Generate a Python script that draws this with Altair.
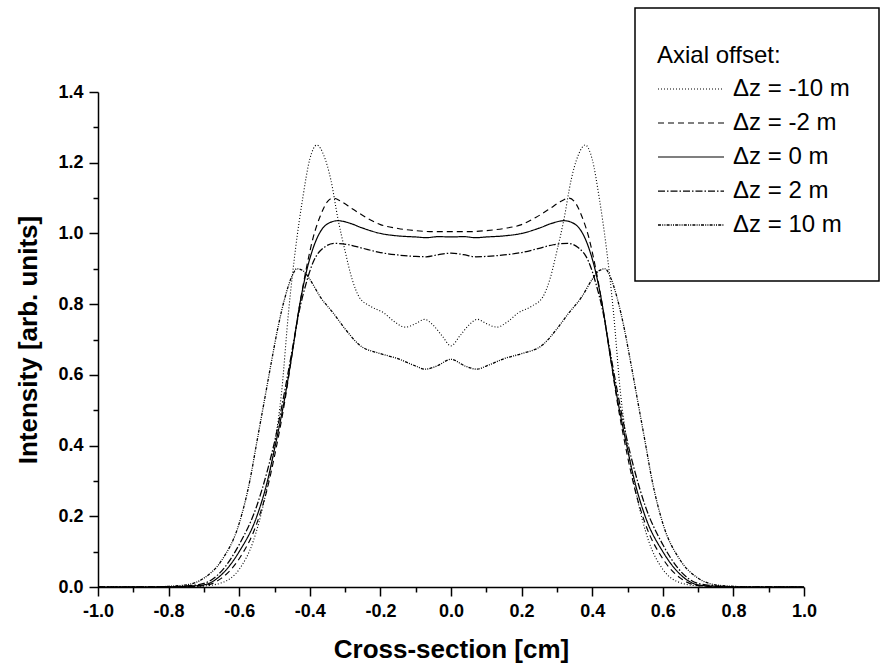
import altair as alt
import pandas as pd

# ---- data ----
labels = ["Δz = -10 m", "Δz = -2 m", "Δz = 0 m", "Δz = 2 m", "Δz = 10 m"]

x_m10 = [-1.0, -0.8, -0.75, -0.7, -0.65, -0.6, -0.56, -0.53, -0.5, -0.48, -0.46, -0.44, -0.42, -0.40, -0.38,
         -0.36, -0.34, -0.32, -0.30, -0.28, -0.26, -0.23, -0.19, -0.16, -0.13, -0.10, -0.075, -0.05, -0.025, 0.0,
         0.025, 0.05, 0.075, 0.10, 0.13, 0.16, 0.19, 0.23, 0.26, 0.28, 0.30, 0.32, 0.34, 0.36,
         0.38, 0.40, 0.42, 0.44, 0.46, 0.48, 0.5, 0.53, 0.56, 0.6, 0.65, 0.7, 0.75, 0.8, 1.0]
y_m10 = [0.0, 0.0, 0.001, 0.003, 0.012, 0.05, 0.13, 0.24, 0.40, 0.55, 0.78, 0.96, 1.10, 1.21, 1.25,
         1.22, 1.15, 1.04, 0.95, 0.87, 0.82, 0.795, 0.775, 0.75, 0.735, 0.745, 0.757, 0.74, 0.71, 0.682,
         0.71, 0.74, 0.757, 0.745, 0.735, 0.75, 0.775, 0.795, 0.82, 0.87, 0.95, 1.04, 1.15, 1.22,
         1.25, 1.21, 1.10, 0.96, 0.78, 0.55, 0.40, 0.24, 0.13, 0.05, 0.012, 0.003, 0.001, 0.0, 0.0]

x_m2 = [-1.0, -0.8, -0.75, -0.7, -0.65, -0.6, -0.55, -0.52, -0.5, -0.47, -0.45, -0.43, -0.41, -0.39, -0.37,
        -0.35, -0.335, -0.31, -0.28, -0.24, -0.2, -0.15, -0.1, -0.05, 0.0,
        0.05, 0.1, 0.15, 0.2, 0.24, 0.28, 0.31, 0.335, 0.35, 0.37, 0.39, 0.41, 0.43, 0.45, 0.47,
        0.5, 0.52, 0.55, 0.6, 0.65, 0.7, 0.75, 0.8, 1.0]
y_m2 = [0.0, 0.0, 0.001, 0.004, 0.025, 0.08, 0.18, 0.28, 0.37, 0.53, 0.66, 0.79, 0.90, 0.99, 1.05,
        1.09, 1.10, 1.09, 1.07, 1.045, 1.025, 1.014, 1.008, 1.005, 1.005,
        1.005, 1.008, 1.014, 1.025, 1.045, 1.07, 1.09, 1.10, 1.09, 1.05, 0.99, 0.90, 0.79, 0.66, 0.53,
        0.37, 0.28, 0.18, 0.08, 0.025, 0.004, 0.001, 0.0, 0.0]

x_0 = [-1.0, -0.8, -0.75, -0.7, -0.65, -0.6, -0.55, -0.52, -0.5, -0.47, -0.45, -0.43, -0.41, -0.39, -0.37,
       -0.35, -0.32, -0.29, -0.25, -0.2, -0.15, -0.1, -0.07, -0.035, 0.0,
       0.035, 0.07, 0.1, 0.15, 0.2, 0.25, 0.29, 0.32, 0.35, 0.37, 0.39, 0.41, 0.43, 0.45, 0.47,
       0.5, 0.52, 0.55, 0.6, 0.65, 0.7, 0.75, 0.8, 1.0]
y_0 = [0.0, 0.0, 0.002, 0.006, 0.035, 0.10, 0.20, 0.30, 0.39, 0.54, 0.66, 0.79, 0.89, 0.96, 1.005,
       1.027, 1.036, 1.03, 1.015, 1.0, 0.993, 0.99, 0.988, 0.991, 0.99,
       0.991, 0.988, 0.99, 0.993, 1.0, 1.015, 1.03, 1.036, 1.027, 1.005, 0.96, 0.89, 0.79, 0.66, 0.54,
       0.39, 0.30, 0.20, 0.10, 0.035, 0.006, 0.002, 0.0, 0.0]

x_p2 = [-1.0, -0.8, -0.75, -0.7, -0.65, -0.6, -0.55, -0.52, -0.5, -0.47, -0.45, -0.43, -0.41, -0.39, -0.36,
        -0.33, -0.29, -0.25, -0.2, -0.15, -0.1, -0.07, -0.035, 0.0,
        0.035, 0.07, 0.1, 0.15, 0.2, 0.25, 0.29, 0.33, 0.36, 0.39, 0.41, 0.43, 0.45, 0.47,
        0.5, 0.52, 0.55, 0.6, 0.65, 0.7, 0.75, 0.8, 1.0]
y_p2 = [0.0, 0.001, 0.003, 0.01, 0.045, 0.12, 0.23, 0.33, 0.41, 0.56, 0.67, 0.78, 0.86, 0.92, 0.96,
        0.972, 0.968, 0.958, 0.946, 0.939, 0.935, 0.934, 0.94, 0.944,
        0.94, 0.934, 0.935, 0.939, 0.946, 0.958, 0.968, 0.972, 0.96, 0.92, 0.86, 0.78, 0.67, 0.56,
        0.41, 0.33, 0.23, 0.12, 0.045, 0.01, 0.003, 0.001, 0.0]

x_p10 = [-1.0, -0.85, -0.8, -0.75, -0.7, -0.65, -0.6, -0.57, -0.55, -0.53, -0.51, -0.49, -0.47, -0.45, -0.437,
         -0.42, -0.4, -0.37, -0.333, -0.3, -0.26, -0.2, -0.154, -0.1, -0.074, -0.04, 0.0,
         0.04, 0.074, 0.1, 0.154, 0.2, 0.26, 0.3, 0.333, 0.37, 0.4, 0.42,
         0.437, 0.45, 0.47, 0.49, 0.51, 0.53, 0.55, 0.57, 0.6, 0.65, 0.7, 0.75, 0.8, 0.85, 1.0]
y_p10 = [0.0, 0.0, 0.002, 0.006, 0.025, 0.075, 0.18, 0.30, 0.41, 0.52, 0.63, 0.735, 0.82, 0.88, 0.90,
         0.895, 0.87, 0.82, 0.774, 0.73, 0.685, 0.66, 0.647, 0.625, 0.616, 0.625, 0.644,
         0.625, 0.616, 0.625, 0.647, 0.66, 0.685, 0.73, 0.774, 0.82, 0.87, 0.895,
         0.90, 0.88, 0.82, 0.735, 0.63, 0.52, 0.41, 0.30, 0.18, 0.075, 0.025, 0.006, 0.002, 0.0, 0.0]

x_ticks = [round(-1.0 + 0.1 * i, 1) for i in range(21)]
y_ticks = [round(0.1 * i, 1) for i in range(15)]

series = [(labels[0], x_m10, y_m10), (labels[1], x_m2, y_m2), (labels[2], x_0, y_0),
          (labels[3], x_p2, y_p2), (labels[4], x_p10, y_p10)]
rows = []
for name, xs, ys in series:
    for i, (a, b) in enumerate(zip(xs, ys)):
        rows.append({"series": name, "x": a, "y": b, "order": i})
df = pd.DataFrame(rows)

dashes = [[1, 2], [6, 4], [1, 0], [7, 2, 1.5, 2], [3, 1.2, 1, 1.2, 1, 1.2]]
widths = [1.1, 1.3, 1.4, 1.3, 1.1]

FONT = "Liberation Sans"
major_test = "abs(round(datum.value * 10)) % 2 == 0"
label_expr = f"{major_test} ? replace(format(datum.value, '.1f'), '\u2212', '-') : ''"

x_axis = alt.Axis(
    values=x_ticks, title="Cross-section [cm]", labelExpr=label_expr,
    labelOverlap=False, labelFlush=False, grid=False,
    tickSize={"condition": {"test": major_test, "value": 9}, "value": 5},
    labelPadding=6, titlePadding=16,
)
y_axis = alt.Axis(
    values=y_ticks, title="Intensity [arb. units]", labelExpr=label_expr,
    labelOverlap=False, labelFlush=False, grid=False,
    tickSize={"condition": {"test": major_test, "value": 9}, "value": 5},
    labelPadding=6, titlePadding=16,
)

lines = alt.Chart(df).mark_line(interpolate="monotone", color="black").encode(
    x=alt.X("x:Q", scale=alt.Scale(domain=[-1.0, 1.0], nice=False, zero=False), axis=x_axis),
    y=alt.Y("y:Q", scale=alt.Scale(domain=[0.0, 1.4], nice=False), axis=y_axis),
    strokeDash=alt.StrokeDash(
        "series:N", scale=alt.Scale(domain=labels, range=dashes),
        legend=alt.Legend(
            title="Axial offset:", orient="none", legendX=559, legendY=-48,
            symbolType="stroke", symbolSize=4356, symbolStrokeColor="black", symbolStrokeWidth=1.2,
            clipHeight=34, labelFontSize=24, labelFont=FONT, labelOffset=8, labelLimit=300,
            titleFontSize=24, titleFont=FONT, titleFontWeight="normal", titlePadding=4,
            labelColor="black", titleColor="black", rowPadding=0,
        ),
    ),
    strokeWidth=alt.StrokeWidth("series:N", scale=alt.Scale(domain=labels, range=widths), legend=None),
    detail="series:N",
    order="order:Q",
)

box = alt.Chart(alt.Data(values=[{}])).mark_rect(fill=None, stroke="black", strokeWidth=1.5).encode(
    x=alt.value(537), x2=alt.value(781), y=alt.value(-84), y2=alt.value(189)
)

chart = alt.layer(lines, box).properties(
    width=706, height=495,
    autosize=alt.AutoSizeParams(type="none"),
    padding={"left": 98, "top": 92, "right": 76, "bottom": 81},
    background="white",
).configure_view(stroke=None).configure_axis(
    domainColor="black", domainWidth=1.5, tickColor="black", tickWidth=1.5,
    labelFont=FONT, labelFontWeight="bold", labelFontSize=18, labelColor="black",
    titleFont=FONT, titleFontWeight="bold", titleFontSize=26, titleColor="black",
)

chart.save("out.html", embed_options={"renderer": "svg", "actions": False})
